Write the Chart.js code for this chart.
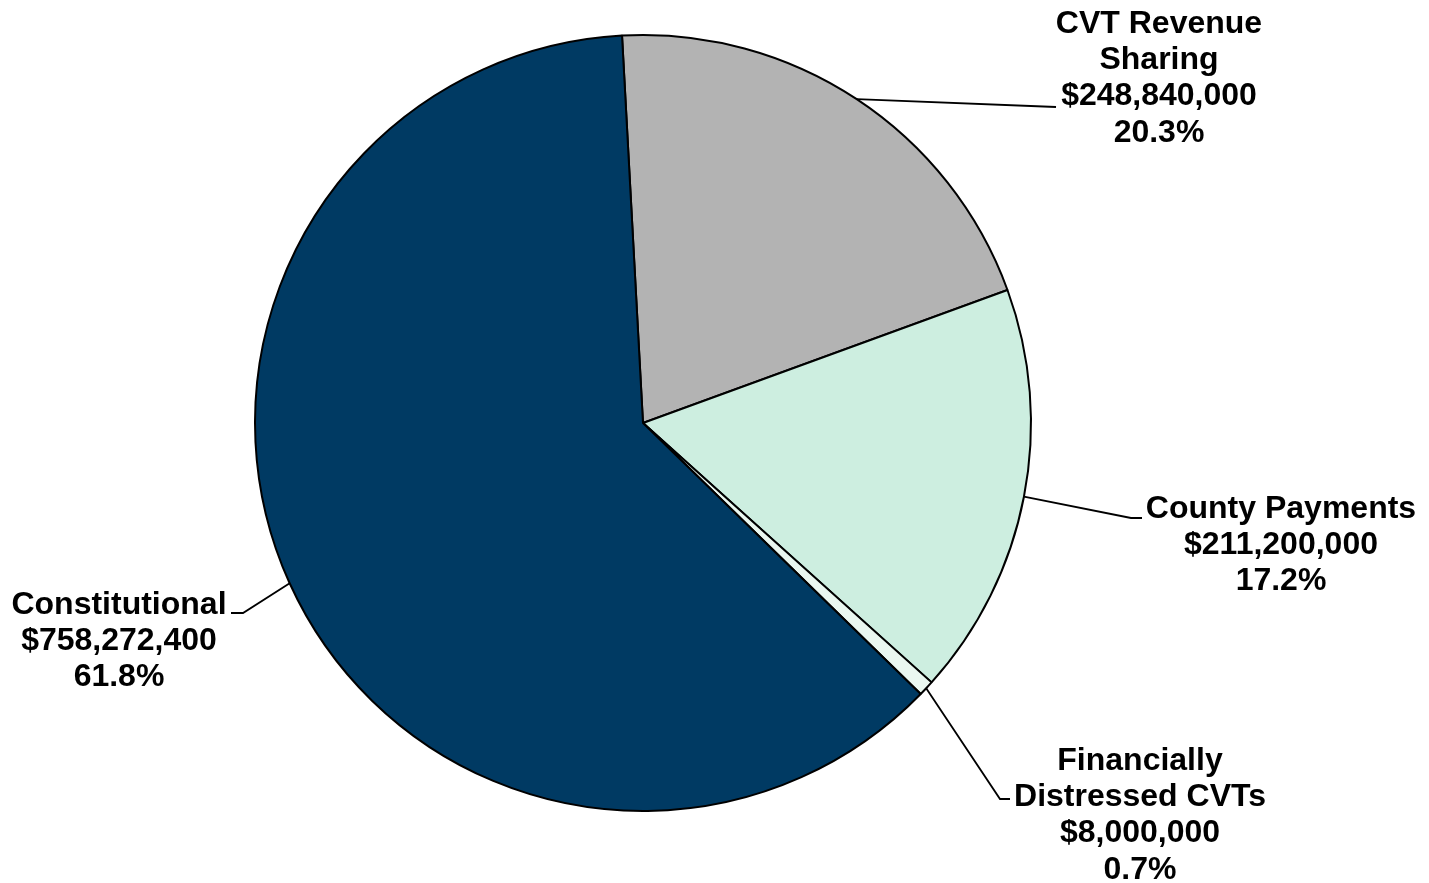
<!DOCTYPE html>
<html>
<head>
<meta charset="utf-8">
<script src="https://cdn.jsdelivr.net/npm/chart.js@4"></script>
<style>
  body { margin: 0; background: #fff; }
  #wrap { width: 1429px; height: 883px; }
</style>
</head>
<body>
<div id="wrap"><canvas id="pie-chart" width="1429" height="883"></canvas></div>
<script>
// slices in clockwise order, starting just left of 12 o'clock
var categories = ['CVT Revenue Sharing', 'County Payments', 'Financially Distressed CVTs', 'Constitutional'];
var label_lines = [['CVT Revenue', 'Sharing'], ['County Payments'], ['Financially', 'Distressed CVTs'], ['Constitutional']];
var amounts = [248840000, 211200000, 8000000, 758272400];
var colors = ['#b3b3b3', '#cdeee0', '#eaf7f0', '#003a63'];

var total = amounts.reduce(function(acc, val) { return acc + val; }, 0);

// where each callout sits: text centre, first line y, elbow and end of leader line
var callouts = [
    { x: 1159, y: 24, elbow: [1056, 107], end: [1056, 107] },
    { x: 1281, y: 509, elbow: [1131, 518], end: [1142, 518] },
    { x: 1140, y: 761, elbow: [1000, 799], end: [1010, 799] },
    { x: 119, y: 605, elbow: [243, 613], end: [231, 613] }
];

function money(v) {
    return '$' + v.toLocaleString('en-US');
}

var calloutPlugin = {
    id: 'callouts',
    afterDraw: function(chart) {
        var c = chart.ctx;
        var arcs = chart.getDatasetMeta(0).data;
        c.save();
        c.strokeStyle = '#000';
        c.lineWidth = 1.8;
        c.fillStyle = '#000';
        c.font = 'bold 32px "Liberation Sans", Arial, sans-serif';
        c.textAlign = 'center';
        c.textBaseline = 'middle';
        arcs.forEach(function(arc, i) {
            var mid = (arc.startAngle + arc.endAngle) / 2;
            var sx = arc.x + Math.cos(mid) * arc.outerRadius;
            var sy = arc.y + Math.sin(mid) * arc.outerRadius;
            var co = callouts[i];
            c.beginPath();
            c.moveTo(sx, sy);
            c.lineTo(co.elbow[0], co.elbow[1]);
            c.lineTo(co.end[0], co.end[1]);
            c.stroke();
            var lines = label_lines[i].concat([
                money(amounts[i]),
                (amounts[i] / total * 100).toFixed(1) + '%'
            ]);
            lines.forEach(function(t, j) {
                c.fillText(t, co.x, co.y + j * 36.3);
            });
        });
        c.restore();
    }
};

var ctx = document.getElementById('pie-chart');
var myChart = new Chart(ctx, {
    type: 'pie',
    data: {
        labels: categories,
        datasets: [{
            data: amounts,
            backgroundColor: colors,
            borderColor: '#000',
            borderWidth: 2
        }]
    },
    options: {
        responsive: false,
        animation: false,
        rotation: -3.1,
        radius: 388,
        layout: { padding: { top: 35, bottom: 72, left: 0, right: 143 } },
        plugins: {
            legend: { display: false },
            tooltip: { enabled: false }
        }
    },
    plugins: [calloutPlugin]
});
</script>
</body>
</html>
